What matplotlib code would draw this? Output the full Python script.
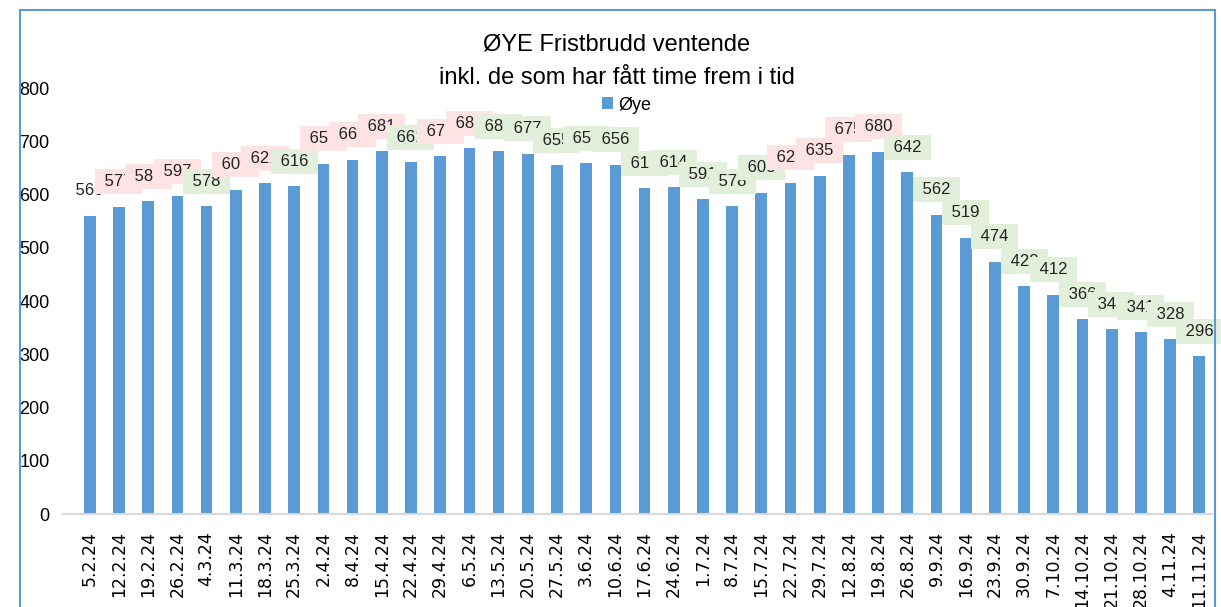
import matplotlib
matplotlib.use('Agg')
import matplotlib.pyplot as plt
from matplotlib.patches import Rectangle

# ---------------------------------------------------------------------------
# data
dates = ['5.2.24', '12.2.24', '19.2.24', '26.2.24', '4.3.24', '11.3.24', '18.3.24', '25.3.24',
         '2.4.24', '8.4.24', '15.4.24', '22.4.24', '29.4.24', '6.5.24', '13.5.24', '20.5.24',
         '27.5.24', '3.6.24', '10.6.24', '17.6.24', '24.6.24', '1.7.24', '8.7.24', '15.7.24',
         '22.7.24', '29.7.24', '12.8.24', '19.8.24', '26.8.24', '9.9.24', '16.9.24', '23.9.24',
         '30.9.24', '7.10.24', '14.10.24', '21.10.24', '28.10.24', '4.11.24', '11.11.24']
oye = [560, 577, 587, 597, 578, 609, 621, 616,
       658, 665, 681, 661, 672, 687, 681, 677,
       655, 659, 656, 612, 614, 591, 578, 603,
       622, 635, 675, 680, 642, 562, 519, 474,
       428, 412, 366, 347, 341, 328, 296]
# label box: '' = none, 'up' = pink, 'down' = green
trend = ['', 'up', 'up', 'up', 'down', 'up', 'up', 'down',
         'up', 'up', 'up', 'down', 'up', 'up', 'down', 'down',
         'down', 'down', 'down', 'down', 'down', 'down', 'down', 'down',
         'up', 'up', 'up', 'up', 'down', 'down', 'down', 'down',
         'down', 'down', 'down', 'down', 'down', 'down', 'down']
yticks = [0, 100, 200, 300, 400, 500, 600, 700, 800]

BLUE = '#5B9BD5'
BOX = {'up': '#FDE3E3', 'down': '#E2EFDA'}

plt.rcParams['font.family'] = ['Liberation Sans', 'DejaVu Sans']

fig = plt.figure(figsize=(12.21, 6.07), dpi=100)
ax = fig.add_axes([0.052, 0.153, 0.941, 0.702])

x = list(range(len(dates)))
ax.bar(x, oye, width=0.4, color=BLUE, label='Øye', zorder=2)

for i, v in enumerate(oye):
    kw = {}
    if trend[i]:
        kw['bbox'] = dict(boxstyle='square,pad=0.3', fc=BOX[trend[i]], ec='none')
    ax.annotate(f' {v} ', (i, v), xytext=(0, 25), textcoords='offset pixels',
                ha='center', va='center', fontsize=12, color='#222222',
                annotation_clip=False, zorder=3, **kw)

ax.set_ylim(0, 800)
ax.set_xlim(-0.9, 38.45)
ax.set_yticks(yticks)
ax.tick_params(axis='y', length=0, labelsize=13, pad=10)
ax.set_xticks(x)
ax.set_xticklabels(dates, rotation=90, fontsize=12.5, family='DejaVu Sans')
ax.tick_params(axis='x', length=0, pad=12)
for s in ['top', 'right', 'left']:
    ax.spines[s].set_visible(False)
ax.spines['bottom'].set_color('#D9D9D9')
ax.spines['bottom'].set_linewidth(1.5)

ax.legend(loc='center', bbox_to_anchor=(0.49, 0.96), frameon=False, fontsize=13,
          handlelength=0.6, handleheight=0.6, handletextpad=0.3)

fig.text(0.505, 0.926, 'ØYE Fristbrudd ventende', ha='center', va='center', fontsize=17)
fig.text(0.505, 0.871, 'inkl. de som har fått time frem i tid', ha='center', va='center', fontsize=17)

# chart border
fig.patches.append(Rectangle((0.016, -0.02), 0.979, 1.004, transform=fig.transFigure,
                             fill=False, ec=BLUE, lw=1.5))

fig.savefig('out.png', dpi=100)
